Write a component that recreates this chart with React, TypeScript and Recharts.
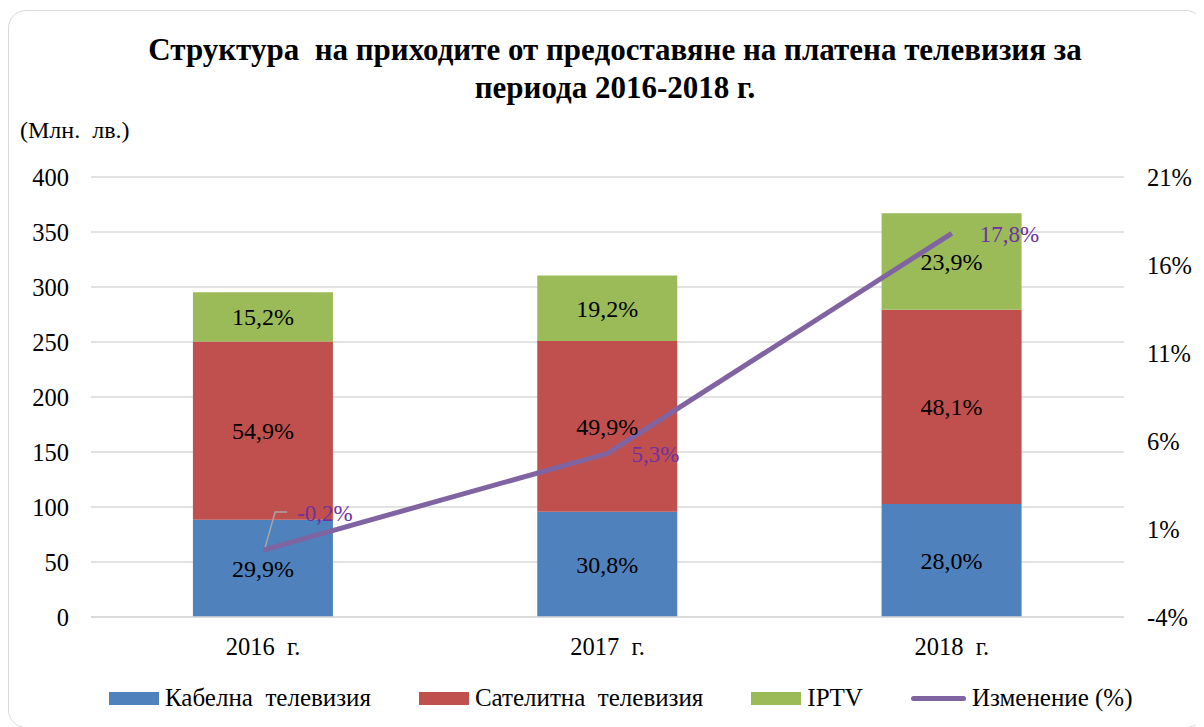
import { ComposedChart, Bar, Line, XAxis, YAxis, CartesianGrid, LabelList } from 'recharts';

const years = ['2016\u00a0 г.', '2017\u00a0 г.', '2018\u00a0 г.'];
const cable = [88.3, 95.7, 102.8];
const satellite = [162.1, 155.1, 176.5];
const iptv = [44.9, 59.7, 87.7];
const cableShare = ['29,9%', '30,8%', '28,0%'];
const satelliteShare = ['54,9%', '49,9%', '48,1%'];
const iptvShare = ['15,2%', '19,2%', '23,9%'];
const change = [-0.2, 5.3, 17.8];
const changeLabels = ['-0,2%', '5,3%', '17,8%'];
const leftTicks = [0, 50, 100, 150, 200, 250, 300, 350, 400];
const rightTicks = [-4, 1, 6, 11, 16, 21];

const data = years.map((year, i) => ({
  year,
  cable: cable[i],
  satellite: satellite[i],
  iptv: iptv[i],
  cableShare: cableShare[i],
  satelliteShare: satelliteShare[i],
  iptvShare: iptvShare[i],
  change: change[i],
  changeLabel: changeLabels[i],
}));

const FONT = '"Liberation Serif", "Times New Roman", serif';
const BLUE = '#4F81BD';
const RED = '#C0504D';
const GREEN = '#9BBB59';
const PURPLE = '#8064A2';
const LABEL_PURPLE = '#7030A0';

// line labels sit a bit differently on each point, like in the source
const ChangeLabel = (props: any) => {
  const { x, y, value, index } = props;
  if (index === 0) {
    return (
      <g>
        <polyline
          points={`${x + 2},${y - 3} ${x + 12},${y - 38} ${x + 24},${y - 38}`}
          fill="none"
          stroke="#a6a6a6"
          strokeWidth={1.5}
        />
        <text x={x + 34} y={y - 37} dy="0.35em" fill={LABEL_PURPLE} fontSize={23} fontFamily={FONT}>
          {value}
        </text>
      </g>
    );
  }
  const dx = index === 1 ? 24 : 28;
  return (
    <text x={x + dx} y={y + 1} dy="0.35em" fill={LABEL_PURPLE} fontSize={23} fontFamily={FONT}>
      {value}
    </text>
  );
};

const legendItems = [
  { name: 'Кабелна\u00a0 телевизия', color: BLUE, type: 'rect' },
  { name: 'Сателитна\u00a0 телевизия', color: RED, type: 'rect' },
  { name: 'IPTV', color: GREEN, type: 'rect' },
  { name: 'Изменение (%)', color: PURPLE, type: 'line' },
];

export default function App() {
  const tickStyle = { fill: '#000', fontSize: 24.5, fontFamily: FONT };
  return (
    <div
      style={{
        position: 'relative',
        marginTop: 2,
        width: 1194,
        height: 716,
        border: '1px solid #d9d9d9',
        borderRadius: 18,
        background: '#fff',
        fontFamily: FONT,
      }}
    >
      <div
        style={{
          position: 'absolute',
          top: 20,
          left: 18,
          right: 0,
          textAlign: 'center',
          fontWeight: 'bold',
          fontSize: 31,
          lineHeight: '38px',
          color: '#000',
        }}
      >
        Структура&nbsp; на приходите от предоставяне на платена телевизия за
        <br />
        периода 2016-2018 г.
      </div>
      <div style={{ position: 'absolute', top: 106, left: 11, fontSize: 24, lineHeight: '26px' }}>
        (Млн.&nbsp; лв.)
      </div>

      <ComposedChart
        width={1194}
        height={716}
        data={data}
        margin={{ top: 166, right: 0, bottom: 60, left: 0 }}
        barCategoryGap="29.6%"
      >
        <CartesianGrid vertical={false} stroke="#d9d9d9" strokeWidth={1.5} yAxisId="left" />
        <XAxis
          dataKey="year"
          height={50}
          axisLine={{ stroke: '#d9d9d9', strokeWidth: 1.5 }}
          tickLine={false}
          tick={tickStyle}
          tickMargin={15}
        />
        <YAxis
          yAxisId="left"
          width={82}
          domain={[0, 400]}
          ticks={leftTicks}
          axisLine={false}
          tickLine={false}
          tick={tickStyle}
          tickMargin={16}
        />
        <YAxis
          yAxisId="right"
          orientation="right"
          width={79}
          domain={[-4, 21]}
          ticks={rightTicks}
          tickFormatter={(v: number) => `${v}%`}
          axisLine={false}
          tickLine={false}
          tick={tickStyle}
          tickMargin={17}
        />
        <Bar yAxisId="left" dataKey="cable" stackId="a" fill={BLUE} isAnimationActive={false}>
          <LabelList dataKey="cableShare" position="center" fill="#000" fontSize={24} fontFamily={FONT} />
        </Bar>
        <Bar yAxisId="left" dataKey="satellite" stackId="a" fill={RED} isAnimationActive={false}>
          <LabelList dataKey="satelliteShare" position="center" fill="#000" fontSize={24} fontFamily={FONT} />
        </Bar>
        <Bar yAxisId="left" dataKey="iptv" stackId="a" fill={GREEN} isAnimationActive={false}>
          <LabelList dataKey="iptvShare" position="center" fill="#000" fontSize={24} fontFamily={FONT} />
        </Bar>
        <Line
          yAxisId="right"
          dataKey="change"
          stroke={PURPLE}
          strokeWidth={5}
          dot={false}
          activeDot={false}
          isAnimationActive={false}
        >
          <LabelList dataKey="changeLabel" content={ChangeLabel} />
        </Line>
      </ComposedChart>

      <div
        style={{
          position: 'absolute',
          top: 673,
          left: 100,
          display: 'flex',
          alignItems: 'center',
          gap: 48,
          fontSize: 25,
          lineHeight: '28px',
          whiteSpace: 'nowrap',
        }}
      >
        {legendItems.map((item) => (
          <div key={item.name} style={{ display: 'flex', alignItems: 'center', gap: 6 }}>
            {item.type === 'rect' ? (
              <div style={{ width: 50, height: 13, background: item.color }} />
            ) : (
              <div style={{ width: 55, height: 5, borderRadius: 3, background: item.color }} />
            )}
            <span>{item.name}</span>
          </div>
        ))}
      </div>
    </div>
  );
}
